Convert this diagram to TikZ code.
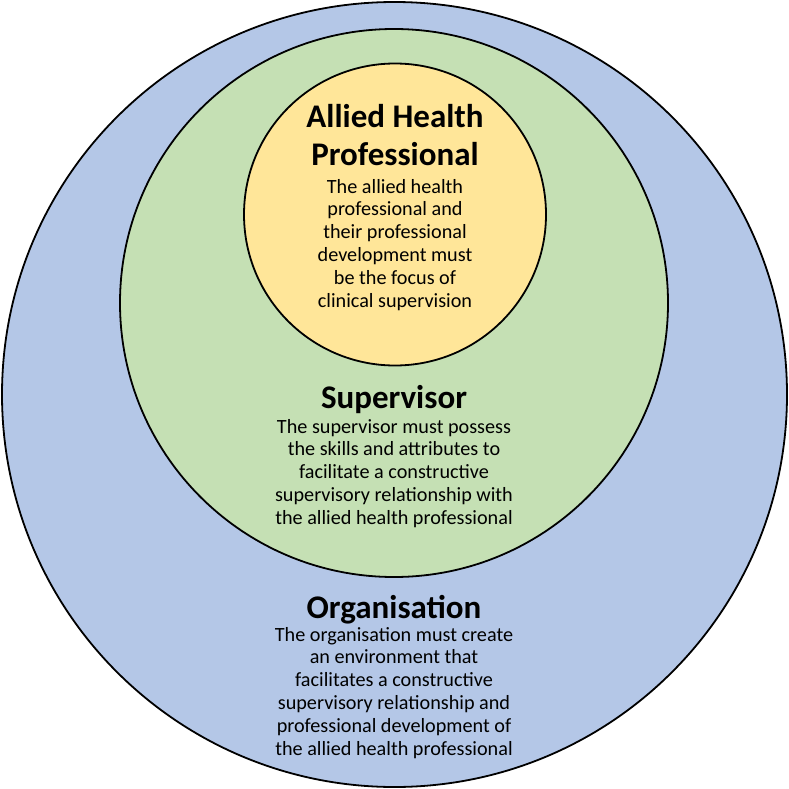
\documentclass[tikz,border=0pt]{standalone}
\usepackage{fontspec}
\setmainfont{Carlito}
\definecolor{orgblue}{RGB}{180,199,231}
\definecolor{supgreen}{RGB}{197,224,180}
\definecolor{ahporange}{RGB}{255,230,153}
\begin{document}
\begin{tikzpicture}[x=1pt,y=-1pt,
  ring/.style={draw=black,line width=1.8pt},
  head/.style={anchor=base,inner sep=0pt,font=\fontsize{33}{38}\selectfont\bfseries},
  body/.style={anchor=base,inner sep=0pt,font=\fontsize{20.2}{22.8}\selectfont}]
\useasboundingbox (0,0) rectangle (789,789);
\fill[white] (0,0) rectangle (789,789);
\draw[ring,fill=orgblue] (394.5,394.5) circle[radius=392.5];
\draw[ring,fill=supgreen] (394,303) circle[radius=274];
\draw[ring,fill=ahporange] (395,214.5) circle[radius=151];
\node[head] (ahph) at (395,128) {\begin{tabular}[t]{@{}c@{}}Allied Health\\Professional\end{tabular}};
\node[body] (ahpb) at (395,193) {\begin{tabular}[t]{@{}c@{}}The allied health\\professional and\\their professional\\development must\\be the focus of\\clinical supervision\end{tabular}};
\node[head] (suph) at (394,408) {Supervisor};
\node[body] (supb) at (394,433) {\begin{tabular}[t]{@{}c@{}}The supervisor must possess\\the skills and attributes to\\facilitate a constructive\\supervisory relationship with\\the allied health professional\end{tabular}};
\node[head] (orgh) at (394,618) {Organisation};
\node[body] (orgb) at (394,641) {\begin{tabular}[t]{@{}c@{}}The organisation must create\\an environment that\\facilitates a constructive\\supervisory relationship and\\professional development of\\the allied health professional\end{tabular}};
\end{tikzpicture}
\end{document}
